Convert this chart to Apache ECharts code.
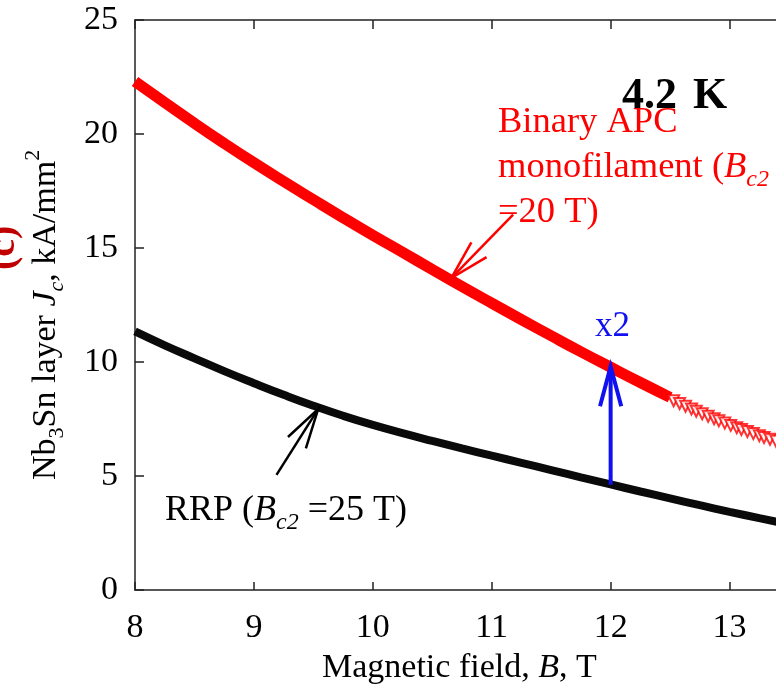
<!DOCTYPE html>
<html><head><meta charset="utf-8">
<script src="https://cdn.jsdelivr.net/npm/echarts@6/dist/echarts.min.js"></script>
<style>html,body{margin:0;padding:0;background:#fff}#c{width:776px;height:685px}</style>
</head><body><div id="c"></div>
<script>
// ---- data ----
const xTicks = [8, 9, 10, 11, 12, 13];
const yTicks = [0, 5, 10, 15, 20, 25];
const rrpB = [8.0, 8.25, 8.5, 8.75, 9.0, 9.25, 9.5, 9.75, 10.0, 10.25, 10.5, 10.75, 11.0, 11.25, 11.5, 11.75, 12.0, 12.25, 12.5, 12.75, 13.0, 13.25, 13.5];
const rrpJ = [11.34, 10.73, 10.16, 9.60, 9.07, 8.56, 8.08, 7.64, 7.24, 6.88, 6.54, 6.21, 5.89, 5.58, 5.26, 4.94, 4.63, 4.32, 4.02, 3.72, 3.43, 3.15, 2.88];
const apcB = [8.0, 8.25, 8.5, 8.75, 9.0, 9.25, 9.5, 9.75, 10.0, 10.25, 10.5, 10.75, 11.0, 11.25, 11.5, 11.75, 12.0, 12.25, 12.5];
const apcJ = [22.3, 21.38, 20.47, 19.59, 18.74, 17.92, 17.12, 16.33, 15.56, 14.81, 14.06, 13.31, 12.58, 11.86, 11.15, 10.45, 9.77, 9.10, 8.45];
const apcTailB = [12.53, 12.58, 12.63, 12.68, 12.72, 12.77, 12.82, 12.87, 12.91, 12.96, 13.01, 13.06, 13.10, 13.15, 13.20, 13.25, 13.29, 13.34, 13.39];
const apcTailJ = [8.30, 8.18, 8.06, 7.94, 7.84, 7.73, 7.62, 7.51, 7.42, 7.32, 7.22, 7.12, 7.04, 6.95, 6.86, 6.77, 6.69, 6.61, 6.53];
// annotation arrows: [tail, tip] in data units (B, Jc)
const arrowRed = [[11.18, 16.46], [10.66, 13.68]];
const arrowBlack = [[9.19, 5.05], [9.54, 7.93]];
const arrowBlue = [[12.0, 4.62], [12.0, 9.80]];

// ---- styling helpers ----
const FF = '"Liberation Serif", "Times New Roman", serif';
const mctx = document.createElement('canvas').getContext('2d');
function fontStr(p) { return (p.i ? 'italic ' : 'normal ') + (p.b ? 'bold ' : 'normal ') + p.s + 'px "Liberation Serif"'; }
function textW(t, f) { mctx.font = f; mctx.textBaseline = 'alphabetic'; return mctx.measureText(t).width; }
function midOff(f) { mctx.font = f; mctx.textBaseline = 'middle'; return mctx.measureText('H').actualBoundingBoxDescent; }
function run(parts, x, y, rot, color) {
  let cx = 0; const ch = [];
  parts.forEach(p => {
    const f = fontStr(p);
    ch.push({ type: 'text', x: cx + (p.dx || 0), y: (p.dy || 0) - midOff(f),
      style: { text: p.t, font: f, fill: p.c || color, textAlign: 'left', textVerticalAlign: 'middle', align: 'left', verticalAlign: 'middle' } });
    cx += textW(p.t, f) + (p.dx || 0);
  });
  return { type: 'group', x: x, y: y, rotation: rot || 0, children: ch, z: 100 };
}

const RED = '#ff0000', BLUE = '#1010f0';
const arrowList = [arrowRed, arrowBlack, arrowBlue];
const arrowStyle = [{ c: RED, w: 2.5 }, { c: '#000', w: 2.5 }, { c: BLUE, w: 4 }];

const chart = echarts.init(document.getElementById('c'), null, { renderer: 'canvas' });
const axisCommon = {
  type: 'value', min: xTicks[0], max: 13.5, interval: 1,
  axisLine: { show: true, lineStyle: { color: '#222', width: 1.5 } },
  splitLine: { show: false }
};
chart.setOption({
  animation: false,
  backgroundColor: '#fff',
  grid: { left: 135, top: 20, right: -13, bottom: 95, containLabel: false, outerBoundsMode: 'none' },
  xAxis: [
    Object.assign({}, axisCommon, {
      position: 'bottom',
      axisTick: { show: true, inside: true, length: 8, lineStyle: { color: '#222', width: 1.5 } },
      axisLabel: { show: true, fontSize: 34, fontFamily: FF, color: '#000', margin: 21, showMaxLabel: false }
    }),
    Object.assign({}, axisCommon, {
      position: 'top',
      axisTick: { show: true, inside: true, length: 9, lineStyle: { color: '#222', width: 1.5 } },
      axisLabel: { show: false }
    })
  ],
  yAxis: {
    type: 'value', min: yTicks[0], max: yTicks[yTicks.length - 1], interval: 5,
    axisLine: { show: true, lineStyle: { color: '#222', width: 1.5 } },
    axisTick: { show: true, inside: true, length: 9, lineStyle: { color: '#222', width: 1.5 } },
    axisLabel: { fontSize: 34, fontFamily: FF, color: '#000', margin: 17 },
    splitLine: { show: false }
  },
  series: [
    { type: 'line', name: 'RRP', data: rrpB.map((b, i) => [b, rrpJ[i]]), smooth: true, symbol: 'none',
      lineStyle: { color: '#0a0a0a', width: 8 }, z: 3 },
    { type: 'line', name: 'APC', data: apcB.map((b, i) => [b, apcJ[i]]), smooth: true, symbol: 'none',
      lineStyle: { color: RED, width: 11 }, z: 4 },
    { type: 'scatter', name: 'APC tail', data: apcTailB.map((b, i) => [b, apcTailJ[i]]),
      symbol: 'emptyTriangle', symbolRotate: 180, symbolSize: 11,
      itemStyle: { color: RED, borderColor: RED, borderWidth: 1.5 }, z: 4 },
    { type: 'custom', coordinateSystem: 'cartesian2d', silent: true, clip: false, z: 20,
      data: arrowList.map(a => [a[0][0], a[0][1], a[1][0], a[1][1]]),
      encode: { x: [0, 2], y: [1, 3] },
      renderItem: function (params, api) {
        const p1 = api.coord([api.value(0), api.value(1)]);
        const p2 = api.coord([api.value(2), api.value(3)]);
        const st = arrowStyle[params.dataIndex];
        const ang = Math.atan2(p1[1] - p2[1], p1[0] - p2[0]);
        const L = 41, a = 15 * Math.PI / 180;
        const b1 = [p2[0] + L * Math.cos(ang + a), p2[1] + L * Math.sin(ang + a)];
        const b2 = [p2[0] + L * Math.cos(ang - a), p2[1] + L * Math.sin(ang - a)];
        return { type: 'group', children: [
          { type: 'line', shape: { x1: p1[0], y1: p1[1], x2: p2[0], y2: p2[1] }, style: { stroke: st.c, lineWidth: st.w } },
          { type: 'polyline', shape: { points: [b1, p2, b2] }, style: { stroke: st.c, lineWidth: st.w, fill: null } }
        ] };
      } }
  ],
  graphic: [
    run([{ t: '4.2', s: 44, b: true }, { t: 'K', s: 44, b: true, dx: 16 }], 622, 108, 0, '#000'),
    run([{ t: 'Binary APC', s: 36.5 }], 498, 132, 0, RED),
    run([{ t: 'monofilament (', s: 36.5 }, { t: 'B', s: 36.5, i: true }, { t: 'c2', s: 24, i: true, dy: 9 }], 498, 177, 0, RED),
    run([{ t: '=20 T)', s: 36.5 }], 498, 222, 0, RED),
    run([{ t: 'RRP (', s: 36 }, { t: 'B', s: 36, i: true }, { t: 'c2', s: 24, i: true, dy: 9 }, { t: ' =25 T)', s: 36 }], 165, 520, 0, '#000'),
    run([{ t: 'x2', s: 35 }], 595, 336, 0, BLUE),
    run([{ t: 'Magnetic field, ', s: 34 }, { t: 'B', s: 34, i: true }, { t: ', T', s: 34 }], 322, 677, 0, '#000'),
    run([{ t: 'Nb', s: 34 }, { t: '3', s: 22, dy: 8 }, { t: 'Sn layer ', s: 34 }, { t: 'J', s: 34, i: true },
         { t: 'c', s: 22, i: true, dy: 8 }, { t: ', kA/mm', s: 34 }, { t: '2', s: 22, dy: -16 }], 55, 480, Math.PI / 2, '#000'),
    run([{ t: '(c)', s: 40, b: true }], 14, 270, Math.PI / 2, '#c00000')
  ]
});
</script></body></html>
